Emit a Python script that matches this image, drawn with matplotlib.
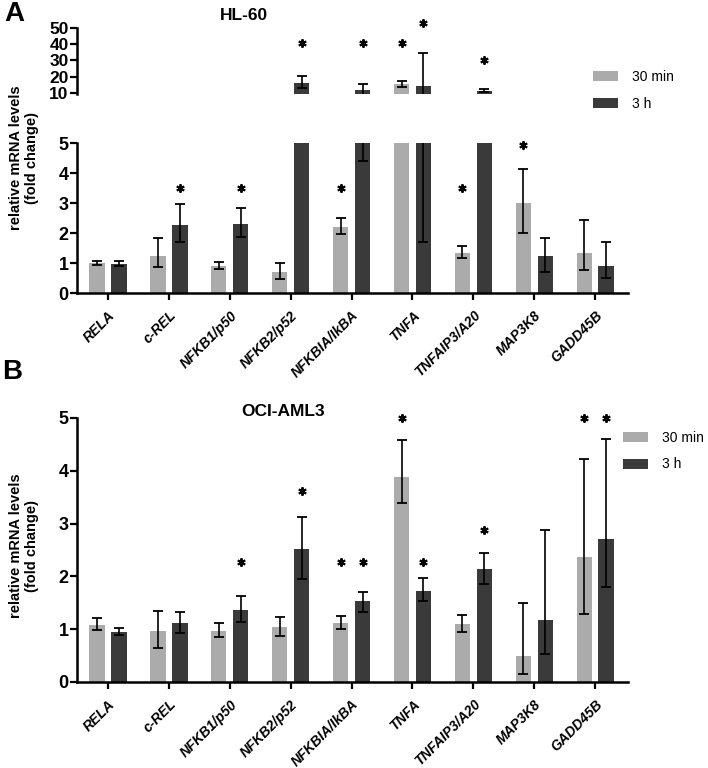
import numpy as np
import matplotlib
matplotlib.use('Agg')
import matplotlib.pyplot as plt

plt.rcParams['font.family'] = ['Liberation Sans', 'DejaVu Sans']
plt.rcParams['font.weight'] = 'bold'

# ============================================================
#  data
# ============================================================
GENES = ['RELA', 'c-REL', 'NFKB1/p50', 'NFKB2/p52', 'NFKBIA/IkBA',
         'TNFA', 'TNFAIP3/A20', 'MAP3K8', 'GADD45B']

# HL-60
hl60_30m     = [1.00, 1.23, 0.90, 0.69, 2.21, 15.2, 1.34, 3.01, 1.32]
hl60_30m_lo  = [0.08, 0.36, 0.10, 0.21, 0.23, 1.9, 0.16, 1.01, 0.56]
hl60_30m_hi  = [0.08, 0.59, 0.12, 0.30, 0.28, 2.0, 0.22, 1.13, 1.12]
hl60_3h      = [0.97, 2.27, 2.30, 15.8, 11.7, 14.3, 11.2, 1.23, 0.89]
hl60_3h_lo   = [0.08, 0.58, 0.44, 2.7, 7.3, 12.6, 0.8, 0.53, 0.38]
hl60_3h_hi   = [0.10, 0.69, 0.52, 4.3, 3.5, 20.1, 0.8, 0.62, 0.81]
hl60_30m_sig = [None, None, None, None, 3.49, 40.6, 3.49, 4.94, None]
hl60_3h_sig  = [None, 3.49, 3.49, 40.6, 40.6, 53.5, 30.3, None, None]

# OCI-AML3
oci_30m      = [1.08, 0.97, 0.97, 1.05, 1.11, 3.88, 1.09, 0.49, 2.36]
oci_30m_lo   = [0.09, 0.32, 0.11, 0.17, 0.10, 0.49, 0.15, 0.34, 1.08]
oci_30m_hi   = [0.14, 0.37, 0.15, 0.18, 0.14, 0.70, 0.17, 1.00, 1.86]
oci_3h       = [0.95, 1.11, 1.37, 2.51, 1.54, 1.73, 2.14, 1.17, 2.70]
oci_3h_lo    = [0.06, 0.19, 0.24, 0.55, 0.21, 0.20, 0.28, 0.64, 0.91]
oci_3h_hi    = [0.08, 0.21, 0.25, 0.62, 0.16, 0.24, 0.30, 1.71, 1.91]
oci_30m_sig  = [None, None, None, None, 2.28, 5.0, None, None, 5.0]
oci_3h_sig   = [None, None, 2.27, 3.61, 2.28, 2.28, 2.87, None, 5.0]

LIGHT = '#ababab'
DARK  = '#3a3a3a'
OFF   = 0.18
WIDTH = 0.25
XLIM  = (-0.51, 8.54)


def draw_bars(ax, v30, lo30, hi30, v3, lo3, hi3, s30, s3, ymin, ymax):
    x = np.arange(len(GENES))
    b1 = ax.bar(x - OFF, v30, width=WIDTH, color=LIGHT, label='30 min')
    b2 = ax.bar(x + OFF, v3, width=WIDTH, color=DARK, label='3 h')
    for xs, v, lo, hi in [(x - OFF, v30, lo30, hi30), (x + OFF, v3, lo3, hi3)]:
        ax.errorbar(xs, v, yerr=[lo, hi], fmt='none', ecolor='black',
                    elinewidth=1.2, capsize=3.5, capthick=1.3)
    # significance stars, only the ones belonging to this axis segment
    for xs, sig in [(x - OFF, s30), (x + OFF, s3)]:
        keep = [(xi, s) for xi, s in zip(xs, sig)
                if s is not None and ymin <= s <= ymax]
        if keep:
            px, py = zip(*keep)
            ax.plot(px, py, ls='none', marker=(6, 2, 0), ms=6, mew=1.4,
                    color='black', clip_on=False)
    ax.set_xlim(*XLIM)
    return b1, b2


def style_axis(ax, show_x=True, ylab_size=13):
    for s in ['top', 'right']:
        ax.spines[s].set_visible(False)
    ax.spines['left'].set_linewidth(1.8)
    ax.spines['bottom'].set_linewidth(1.8)
    ax.tick_params(axis='y', width=1.6, length=5, labelsize=ylab_size, pad=1)
    if show_x:
        ax.set_xticks(range(len(GENES)))
        ax.set_xticklabels(GENES, rotation=45, ha='right',
                           rotation_mode='anchor', fontsize=10,
                           style='italic', fontweight='bold')
        ax.tick_params(axis='x', width=1.6, length=5, pad=6)
    else:
        ax.spines['bottom'].set_visible(False)
        ax.set_xticks([])


fig = plt.figure(figsize=(7.08, 7.68), dpi=100)
W, H = 708, 768


def rect(x0, y0, x1, y1):
    # pixel box -> figure fraction
    return [x0 / W, 1 - y1 / H, (x1 - x0) / W, (y1 - y0) / H]


legend_kw = dict(loc='upper left', bbox_transform=fig.transFigure,
                 frameon=False, borderpad=0, borderaxespad=0,
                 handlelength=1.8, handleheight=0.75, labelspacing=0.9,
                 handletextpad=1.0, prop={'weight': 'normal', 'size': 10})

# ---------------- panel A: HL-60 (broken axis) ----------------
axA_top = fig.add_axes(rect(77, 28.3, 628, 94.3))
axA = fig.add_axes(rect(77, 143, 628, 293))

draw_bars(axA_top, hl60_30m, hl60_30m_lo, hl60_30m_hi,
          hl60_3h, hl60_3h_lo, hl60_3h_hi, hl60_30m_sig, hl60_3h_sig, 9, 60)
axA_top.set_ylim(9, 50)
axA_top.set_yticks([10, 20, 30, 40, 50])
style_axis(axA_top, show_x=False, ylab_size=12.5)

hA = draw_bars(axA, hl60_30m, hl60_30m_lo, hl60_30m_hi,
               hl60_3h, hl60_3h_lo, hl60_3h_hi, hl60_30m_sig, hl60_3h_sig, 0, 5.2)
axA.set_ylim(0, 5)
axA.set_yticks(range(6))
style_axis(axA)

fig.text(244 / W, 1 - 16 / H, 'HL-60', ha='center', va='center',
         fontsize=12.5, fontweight='bold')
fig.text(4 / W, 1 - 1 / H, 'A', ha='left', va='top',
         fontsize=20, fontweight='bold')
fig.text(24 / W, 1 - 158 / H, 'relative mRNA levels\n(fold change)',
         ha='center', va='center', rotation=90, fontsize=10.5,
         fontweight='bold', linespacing=1.1)
axA.legend(hA, ['30 min', '3 h'], bbox_to_anchor=(593 / W, 1 - 70 / H),
           **legend_kw)

# ---------------- panel B: OCI-AML3 ----------------
axB = fig.add_axes(rect(77, 418, 628, 682))
hB = draw_bars(axB, oci_30m, oci_30m_lo, oci_30m_hi,
               oci_3h, oci_3h_lo, oci_3h_hi, oci_30m_sig, oci_3h_sig, 0, 5.2)
axB.set_ylim(0, 5)
axB.set_yticks(range(6))
style_axis(axB)

fig.text(283 / W, 1 - 412 / H, 'OCI-AML3', ha='center', va='center',
         fontsize=12.5, fontweight='bold')
fig.text(2 / W, 1 - 359 / H, 'B', ha='left', va='top',
         fontsize=20, fontweight='bold')
fig.text(24 / W, 1 - 546 / H, 'relative mRNA levels\n(fold change)',
         ha='center', va='center', rotation=90, fontsize=10.5,
         fontweight='bold', linespacing=1.1)
axB.legend(hB, ['30 min', '3 h'], bbox_to_anchor=(623 / W, 1 - 431 / H),
           **legend_kw)

fig.savefig('out.png', dpi=100)
plt.close(fig)
